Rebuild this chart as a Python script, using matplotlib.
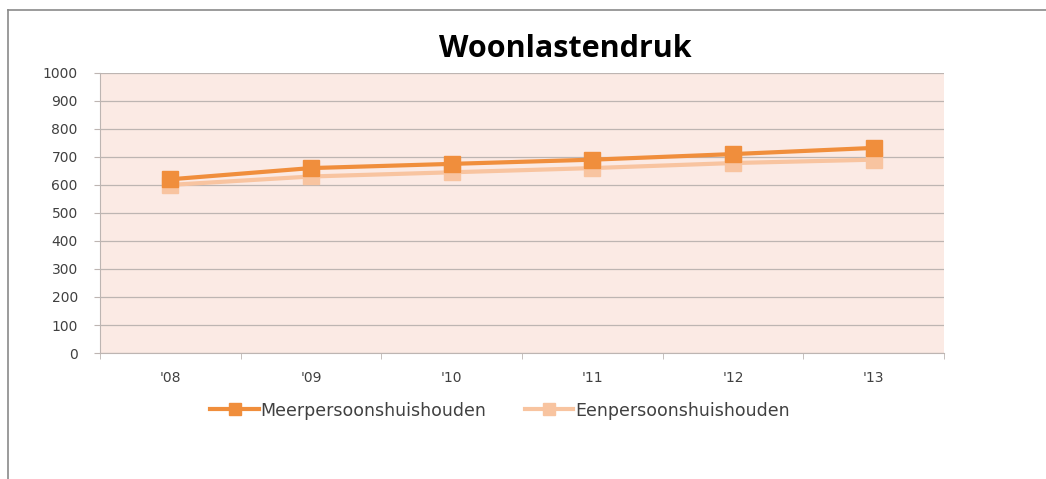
import matplotlib
matplotlib.use("Agg")
import matplotlib.pyplot as plt
from matplotlib.lines import Line2D

YEARS = ["'08", "'09", "'10", "'11", "'12", "'13"]
MEER = [620, 660, 675, 690, 710, 732]
EEN = [600, 630, 645, 660, 678, 690]

ORANGE = "#F08E3C"
PEACH = "#F8C4A0"
BG = "#FBEAE4"
GRID = "#BDB5B2"
TXT = "#404040"

fig = plt.figure(figsize=(10.46, 4.79), dpi=100)
fig.patch.set_facecolor("white")
ax = fig.add_axes([0.0956, 0.263, 0.807, 0.585])
ax.set_facecolor(BG)

x = range(len(YEARS))
ax.plot(x, EEN, color=PEACH, lw=3, marker="s", ms=11, zorder=3)
ax.plot(x, MEER, color=ORANGE, lw=3, marker="s", ms=11, zorder=4)

ax.set_xlim(-0.5, len(YEARS) - 0.5)
ax.set_ylim(0, 1000)
ax.set_yticks(range(0, 1001, 100))
ax.set_xticks(list(x))
ax.set_xticklabels(YEARS)
ax.set_xticks([i - 0.5 for i in range(len(YEARS) + 1)], minor=True)
ax.tick_params(axis="x", which="major", length=0, pad=13, labelsize=10, colors=TXT)
ax.tick_params(axis="x", which="minor", length=4, color=GRID, direction="out")
ax.tick_params(axis="y", length=4, color=GRID, labelsize=10, colors=TXT, pad=12)
ax.grid(axis="y", color=GRID, lw=0.9)
ax.set_axisbelow(True)
for s in ["top", "right"]:
    ax.spines[s].set_visible(False)
for s in ["left", "bottom"]:
    ax.spines[s].set_color(GRID)

fig.text(0.54, 0.897, "Woonlastendruk", ha="center", va="center",
         fontsize=22, fontweight="bold", family="Open Sans", color="black")

handles = [
    Line2D([], [], color=ORANGE, lw=3, marker="s", ms=9),
    Line2D([], [], color=PEACH, lw=3, marker="s", ms=9),
]
fig.legend(handles, ["Meerpersoonshuishouden", "Eenpersoonshuishouden"],
           loc="center", bbox_to_anchor=(0.478, 0.143), ncol=2, frameon=False,
           fontsize=12.5, handlelength=2.8, handletextpad=0.1, columnspacing=2.2,
           labelcolor=TXT)

# outer chart frame
fig.add_artist(Line2D([0.008, 0.008], [0.0, 0.979], color="#8A8A8A", lw=1.2))
fig.add_artist(Line2D([0.008, 1.0], [0.979, 0.979], color="#8A8A8A", lw=1.2))

fig.savefig("out.png", dpi=100)
